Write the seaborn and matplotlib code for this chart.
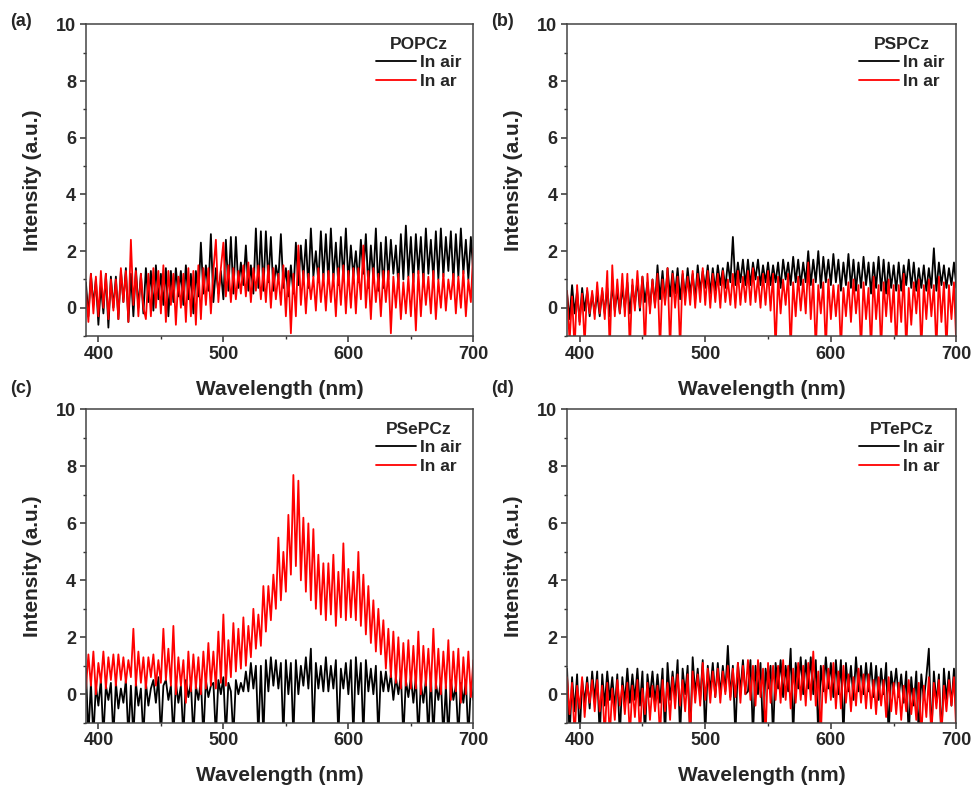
import numpy as np
import pandas as pd
import matplotlib
matplotlib.use('Agg')
import matplotlib.pyplot as plt
from matplotlib.ticker import MultipleLocator
import seaborn as sns

# wavelength grid (nm), 2 nm step, 390..700
wavelength = np.arange(390, 701, 2)

# values (a.u.); -1.5 = drops below the axis
popcz_air = [
    0.9, -0.3, 1.2, 0.1, 1.0, -0.6, 0.8, -0.2, 1.2, -0.7, 1.1, 0.0,
    1.1, -0.4, 1.3, 0.2, 1.4, -0.5, 1.2, -0.3, 1.4, 0.0, 1.2, -0.2,
    1.4, 0.2, 1.3, -0.1, 1.5, 0.3, 1.2, 0.1, 1.4, -0.3, 1.3, 0.2,
    1.4, 0.4, 1.3, 0.1, 1.5, 0.3, 1.2, -0.2, 1.3, 0.4, 2.3, 0.5,
    1.5, 0.6, 2.6, 0.2, 1.4, 0.5, 1.3, 0.3, 2.4, 0.6, 2.5, 0.5,
    2.5, 0.7, 1.6, 0.8, 2.2, 0.6, 1.5, 0.5, 2.8, 0.7, 2.7, 0.6,
    2.7, 0.9, 2.5, 0.6, 1.5, 1.0, 2.6, 0.7, 1.4, 0.4, 1.5, 0.5,
    2.3, 0.8, 2.2, 1.0, 2.4, 0.7, 2.8, 1.1, 2.0, 0.9, 2.7, 1.0,
    2.6, 0.9, 2.8, 1.0, 2.3, 0.8, 2.5, 1.0, 2.8, 0.9, 2.2, 1.1,
    2.0, 0.9, 2.4, 1.2, 2.6, 0.7, 2.2, 1.0, 2.8, 0.6, 2.3, 0.7,
    2.5, 1.0, 2.4, 1.2, 2.2, 0.8, 2.6, 1.0, 2.9, 1.1, 2.5, 0.9,
    2.6, 1.2, 2.5, 0.9, 2.8, 1.2, 2.4, 1.0, 2.7, 1.0, 2.8, 1.1,
    2.5, 1.3, 2.7, 0.9, 2.6, 1.1, 2.8, 1.2, 2.4, 1.0, 2.5, 1.2,
]
popcz_ar = [
    0.6, -0.5, 1.2, -0.2, 1.1, -0.3, 1.3, 0.0, 1.2, -0.4, 1.0, -0.1,
    1.0, -0.4, 1.4, 0.2, 1.3, -0.5, 2.4, 0.1, 1.3, -0.3, 1.2, 0.0,
    -0.4, 1.2, -0.3, 1.4, 0.0, 1.3, -0.2, 1.5, -0.5, 1.3, 0.1, 1.2,
    -0.6, 1.1, 0.0, 1.2, -0.5, 1.4, -0.3, 1.3, -0.6, 1.5, -0.4, 1.4,
    0.1, 1.4, -0.2, 1.3, 2.4, 0.2, 1.4, 2.3, 0.4, 1.5, 0.2, 1.4,
    0.3, 1.3, 0.5, 1.5, 0.4, 1.6, 0.2, 1.4, 0.6, 1.5, 0.3, 1.4,
    0.2, 1.5, 0.0, 1.4, 0.3, 1.2, 0.1, 1.5, -0.3, 1.3, -0.9, 1.2,
    -0.3, 2.2, 0.1, 1.3, -0.2, 1.2, 0.3, 1.1, -0.1, 1.4, 0.2, 1.2,
    -0.1, 1.3, 0.2, 1.2, -0.3, 1.4, 0.1, 1.5, -0.2, 1.3, 0.0, 1.4,
    -0.2, 1.4, 0.3, 2.2, 0.0, 1.3, -0.4, 1.4, 0.2, 1.2, -0.3, 1.3,
    0.2, 1.3, -0.9, 1.1, 0.0, 1.2, -0.4, 0.9, -0.2, 1.1, -0.3, 1.2,
    -0.8, 1.3, -0.3, 1.2, 0.1, 1.1, -0.2, 1.3, -0.4, 1.0, 0.0, 1.2,
    -0.1, 1.0, 0.3, 1.2, -0.2, 1.1, 0.0, 1.3, -0.3, 1.0, 0.2, 2.1,
]
pspcz_air = [
    0.5, -0.4, 0.8, -0.2, 0.6, -0.5, 0.7, -0.1, 0.6, -0.3, 0.5, -0.2,
    0.5, -0.3, 0.6, -0.2, 0.7, -0.3, 0.8, -0.1, 0.6, -0.2, 0.7, 0.0,
    0.9, -0.2, 0.8, 0.1, 1.0, -0.1, 1.1, 0.2, 0.9, 0.0, 1.0, 0.1,
    1.5, 0.3, 1.3, 0.2, 1.4, 0.4, 1.3, 0.5, 1.4, 0.3, 1.2, 0.4,
    1.4, 0.5, 1.2, 0.3, 1.5, 0.6, 1.3, 0.7, 1.5, 0.5, 1.4, 0.6,
    1.5, 0.8, 1.4, 0.7, 1.6, 0.9, 2.5, 0.8, 1.6, 0.9, 1.7, 0.8,
    1.7, 0.8, 1.6, 1.0, 1.7, 0.8, 1.5, 0.9, 1.6, 0.8, 1.5, 0.9,
    1.6, 0.7, 1.7, 1.0, 1.6, 0.8, 1.8, 0.9, 1.7, 0.8, 1.6, 0.9,
    2.0, 0.8, 1.7, 0.9, 2.0, 0.7, 1.8, 0.9, 1.7, 0.8, 1.9, 0.9,
    1.7, 0.6, 1.6, 0.8, 1.9, 0.7, 1.7, 0.6, 1.6, 0.7, 1.8, 0.8,
    1.6, 0.5, 1.6, 0.7, 1.8, 0.6, 1.7, 0.5, 1.6, 0.7, 1.5, 0.6,
    1.6, 0.6, 1.5, 0.8, 1.7, 0.7, 1.6, 0.6, 1.4, 0.7, 1.5, 0.6,
    1.4, 0.7, 2.1, 0.6, 1.6, 0.8, 1.5, 0.7, 1.4, 0.8, 1.6, 0.7,
]
pspcz_ar = [
    0.6, -1.2, 0.4, -1.5, 0.8, -0.6, 0.5, -1.3, 0.7, -0.2, 0.6, -0.4,
    0.9, -0.2, 0.7, -0.4, 1.3, -1.5, 1.5, -0.3, 1.0, -0.2, 1.2, -0.3,
    1.2, -1.5, 1.0, -0.1, 1.3, 0.0, 1.1, -1.5, 1.2, -0.2, 1.0, 0.0,
    1.2, -1.5, 1.0, 0.1, 1.4, -1.5, 1.2, 0.0, 1.1, -1.5, 1.3, 0.1,
    1.1, 0.1, 1.3, 0.0, 1.2, 0.2, 1.4, 0.1, 1.3, 0.0, 1.2, 0.2,
    1.2, 0.0, 1.3, 0.2, 1.0, 0.1, 1.2, 0.0, 1.3, 0.1, 1.1, 0.2,
    1.3, 0.1, 1.4, 0.2, 1.1, 0.0, 1.2, 0.1, 1.3, -0.1, 1.2, -1.5,
    1.1, -0.2, 1.0, 0.1, 1.2, -1.5, 0.9, -0.3, 1.1, -0.1, 1.0, -0.2,
    1.6, -0.4, 1.0, -1.5, 0.8, -0.2, 0.9, -1.5, 1.0, -0.4, 0.8, -0.3,
    0.8, -1.5, 0.7, -0.3, 0.9, -0.5, 1.0, -0.2, 0.8, -1.5, 0.9, -0.4,
    0.7, -1.5, 1.1, -0.4, 0.8, -1.5, 0.9, -0.3, 1.0, -0.5, 0.8, -1.5,
    0.8, -0.5, 1.2, -1.5, 0.7, -0.6, 0.9, -0.2, 1.0, -1.5, 0.8, -0.4,
    1.0, -0.3, 0.8, -1.5, 1.1, -0.5, 0.9, -1.5, 0.8, -0.4, 0.9, -1.5,
]
psepcz_air = [
    0.9, -1.5, 0.4, -1.5, 0.3, -0.4, 0.5, -1.5, 0.3, -0.2, 0.4, -1.5,
    0.4, -0.5, 0.2, -0.3, 0.5, -1.5, 0.3, -1.5, 0.4, -0.4, 0.2, -1.5,
    0.4, -0.4, 0.2, 0.5, -0.3, 0.6, -1.5, 0.3, 0.5, -0.2, 0.3, -1.5,
    0.4, -0.3, 0.3, -1.5, 0.5, -0.1, 0.4, -1.5, 0.3, -0.2, 0.5, -1.5,
    0.5, -0.1, 0.3, 0.4, -1.5, 0.5, 0.0, 0.6, -1.5, 0.4, 0.1, -1.5,
    0.5, 0.0, 0.4, 0.1, 0.8, 0.1, 1.1, 0.2, 1.0, -1.5, 1.0, -1.5,
    1.2, 0.1, 1.3, 0.3, 1.2, 0.2, 1.1, -1.5, 1.2, 0.0, 1.1, -1.5,
    1.2, 0.0, 1.0, 0.3, 1.3, 0.2, 1.6, -1.5, 1.1, 0.2, 1.0, 0.1,
    1.3, 0.1, 1.0, 0.2, 1.2, -1.5, 0.9, 0.2, 1.1, 0.0, 1.2, -1.5,
    1.3, 0.0, 1.1, -1.5, 1.2, 0.1, 0.9, 0.0, 1.0, -1.5, 0.8, 0.1,
    0.8, 0.1, 0.7, -0.2, 0.6, 0.0, 0.7, -1.5, 0.5, -0.1, 0.6, -0.3,
    0.6, -1.5, 0.4, -0.3, 0.5, -1.5, 0.7, -1.5, 0.4, -0.2, 0.5, -1.5,
    0.3, -1.5, 0.5, -0.2, 0.3, -1.5, 0.4, -0.3, 0.5, -1.5, 0.3, -0.2,
]
psepcz_ar = [
    0.2, 1.4, 0.3, 1.5, 0.0, 1.1, 0.4, 1.5, 0.2, 1.3, 0.5, 1.4,
    0.3, 1.4, 0.5, 1.3, 0.4, 1.2, 0.6, 2.3, 0.3, 1.5, 0.4, 1.3,
    0.2, 1.3, 0.6, 1.4, 0.3, 1.2, 0.4, 2.3, 0.5, 1.6, 0.3, 2.4,
    0.0, 1.3, 0.3, 1.2, -0.3, 1.5, 0.1, 1.4, 0.2, 1.3, 0.0, 1.5,
    0.2, 1.8, 0.3, 1.5, 0.2, 2.2, 0.4, 2.8, 0.3, 1.9, 0.6, 2.5,
    0.8, 2.3, 0.9, 2.7, 1.0, 2.4, 1.3, 3.0, 1.6, 2.8, 1.7, 3.8,
    2.2, 3.8, 2.6, 4.2, 3.0, 5.5, 3.3, 5.0, 3.6, 6.3, 4.2, 7.7,
    4.5, 7.5, 4.0, 6.2, 3.6, 6.0, 3.3, 5.8, 3.0, 4.9, 2.8, 4.6,
    2.6, 4.6, 2.8, 4.9, 2.4, 4.3, 2.7, 5.3, 2.6, 4.4, 2.7, 4.3,
    2.6, 5.0, 2.4, 4.2, 2.1, 3.8, 1.8, 3.3, 1.5, 3.0, 1.4, 2.6,
    0.9, 2.3, 0.6, 2.2, 0.4, 2.0, 0.2, 1.8, 0.3, 1.9, 0.2, 1.7,
    0.2, 2.2, 0.0, 1.7, 0.3, 1.6, 0.1, 2.3, 0.2, 1.6, 0.0, 1.5,
    0.2, 1.9, -0.2, 1.5, 0.1, 1.6, -0.3, 1.3, 0.0, 1.5, -0.1, 1.2,
]
ptepcz_air = [
    0.9, -1.5, 0.6, -0.6, 0.7, -1.5, 0.5, -0.3, 0.6, -0.5, 0.8, -0.2,
    0.8, -1.5, 0.7, -0.4, 0.8, -0.2, 0.6, -0.5, 0.7, -1.5, 0.6, -0.3,
    0.9, -0.3, 0.7, -0.2, 0.9, -0.4, 0.8, -1.5, 0.7, -0.1, 0.8, -0.3,
    0.7, -0.3, 0.9, -1.5, 1.1, -0.2, 0.8, -0.1, 1.2, -1.5, 0.9, 0.0,
    1.0, -1.5, 1.3, 0.0, 0.9, -0.2, 1.2, -1.5, 1.0, 0.1, 1.1, -0.1,
    1.1, 0.0, 1.0, 0.1, 1.7, -0.1, 1.0, -1.5, 1.1, 0.1, 1.2, 0.0,
    0.1, 1.2, -1.5, 1.0, 0.0, 1.1, -1.5, 0.9, 0.2, 1.0, -1.5, 1.1,
    0.2, 1.2, -0.1, 1.0, 0.1, 1.6, -1.5, 1.1, 0.2, 1.3, 0.0, 1.2,
    0.2, 1.3, 0.0, 1.2, -1.5, 1.0, 0.1, 1.3, 0.2, 1.1, -0.1, 1.2,
    0.0, 1.2, -1.5, 1.1, 0.1, 1.0, -0.2, 1.3, 0.1, 1.0, 0.0, 1.1,
    0.1, 1.1, -0.1, 1.0, -0.2, 0.9, 0.0, 1.1, -1.5, 0.8, 0.1, 0.9,
    -0.1, 0.7, -0.3, 0.8, -1.5, 0.6, -0.4, 0.8, -1.5, 0.7, -0.2, 0.6,
    1.6, -1.5, 0.8, -0.3, 0.7, -1.5, 0.9, -0.2, 0.8, -0.4, 0.9, -0.3,
]
ptepcz_ar = [
    0.6, -0.7, 0.4, -1.5, 0.3, -0.5, 0.6, -0.8, 0.4, -0.3, 0.5, -0.6,
    0.5, -0.6, 0.3, -1.5, 0.4, -1.5, 0.2, -0.9, 0.5, -0.4, 0.3, -0.7,
    0.4, -1.5, 0.3, -0.8, 0.5, -1.5, 0.2, -0.7, 0.4, -0.9, 0.3, -0.6,
    0.3, -1.5, 0.5, -0.6, 0.4, -0.9, 0.6, -0.5, 0.7, -0.4, 0.5, -0.6,
    0.7, -1.5, 0.8, -0.3, 0.7, -0.4, 1.1, -0.2, 0.9, -0.3, 0.8, -0.1,
    0.9, -0.3, 0.8, 0.0, 1.0, -0.2, 0.9, -0.1, 1.1, -0.3, 1.0, 0.0,
    1.2, -0.2, 1.0, -0.4, 1.2, -0.1, 0.9, -1.5, 1.1, -0.3, 1.0, -0.2,
    1.0, -0.3, 1.2, -0.2, 1.0, -0.5, 0.9, -0.3, 1.1, -0.2, 1.0, -0.4,
    1.1, -0.2, 1.5, -0.4, 0.8, -1.5, 1.0, -0.3, 0.9, -0.2, 1.1, -0.5,
    0.8, -0.5, 1.0, -0.3, 0.7, -0.6, 0.6, -0.4, 0.9, -0.3, 0.7, -0.5,
    0.7, -0.5, 0.5, -0.7, 0.6, -0.4, 0.5, -0.8, 0.6, -0.6, 0.4, -0.7,
    0.4, -0.9, 0.3, -0.6, 0.5, -0.7, 0.2, -0.9, 0.4, -1.5, 0.3, -0.8,
    0.6, -1.5, 0.4, -0.5, 0.5, -1.5, 0.3, -0.6, 0.5, -0.4, 0.6, -1.5,
]

samples = ['POPCz', 'PSPCz', 'PSePCz', 'PTePCz']
panel_tags = ['(a)', '(b)', '(c)', '(d)']
air_data = [popcz_air, pspcz_air, psepcz_air, ptepcz_air]
ar_data = [popcz_ar, pspcz_ar, psepcz_ar, ptepcz_ar]

sns.set_style('ticks')
plt.rcParams['font.family'] = ['Liberation Sans', 'DejaVu Sans']
plt.rcParams['font.weight'] = 'bold'
plt.rcParams['axes.labelweight'] = 'bold'

fig = plt.figure(figsize=(9.76, 7.89), dpi=100)

# axes boxes in figure fractions
boxes = [
    [0.088, 0.574, 0.397, 0.395],
    [0.581, 0.574, 0.399, 0.395],
    [0.088, 0.084, 0.397, 0.397],
    [0.581, 0.084, 0.399, 0.397],
]
tag_pos = [(0.010, 0.973), (0.503, 0.973), (0.010, 0.508), (0.503, 0.508)]

for i, name in enumerate(samples):
    ax = fig.add_axes(boxes[i])
    df = pd.DataFrame({'wl': wavelength, 'air': air_data[i], 'ar': ar_data[i]})
    sns.lineplot(data=df, x='wl', y='air', color='black', lw=1.3, ax=ax, label='In air')
    sns.lineplot(data=df, x='wl', y='ar', color='#ff0000', lw=1.3, ax=ax, label='In ar')

    ax.set_xlim(390, 700)
    ax.set_ylim(-1, 10)
    ax.xaxis.set_major_locator(MultipleLocator(100))
    ax.xaxis.set_minor_locator(MultipleLocator(50))
    ax.yaxis.set_major_locator(MultipleLocator(2))
    ax.yaxis.set_minor_locator(MultipleLocator(1))
    ax.tick_params(which='major', direction='out', length=4, width=1.1,
                   labelsize=13, color='#333333', pad=3)
    ax.tick_params(which='minor', direction='out', length=2.5, width=1.0, color='#333333')
    for lab in ax.get_xticklabels() + ax.get_yticklabels():
        lab.set_fontweight('bold')
    for sp in ax.spines.values():
        sp.set_visible(True)
        sp.set_linewidth(1.1)
        sp.set_color('#444444')

    ax.set_xlabel('Wavelength (nm)', fontsize=15, fontweight='bold', labelpad=12)
    ax.set_ylabel('Intensity (a.u.)', fontsize=15, fontweight='bold', labelpad=10)

    ax.legend(title=name, loc='upper right', frameon=False,
              prop={'weight': 'bold', 'size': 12.5}, handlelength=2.3,
              handletextpad=0.2, labelspacing=0.2, borderaxespad=0.3,
              title_fontproperties={'weight': 'bold', 'size': 12.5})

    fig.text(tag_pos[i][0], tag_pos[i][1], panel_tags[i], fontsize=13,
             fontweight='bold', va='center', ha='left')

plt.savefig('out.png', dpi=100)
plt.close()
